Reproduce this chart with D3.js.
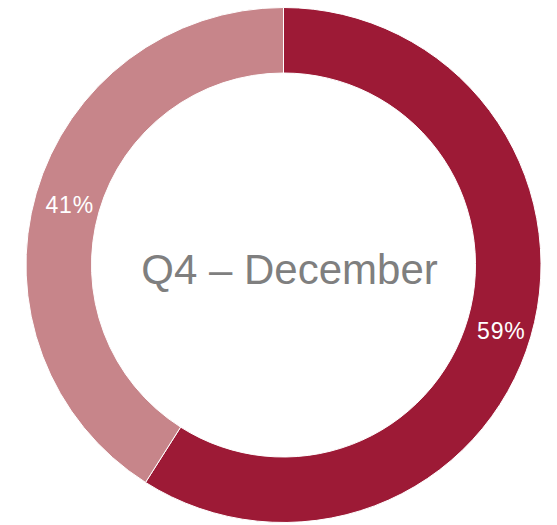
<!DOCTYPE html>
<html>
<head>
<meta charset="utf-8">
<script src="https://cdn.jsdelivr.net/npm/d3@7/dist/d3.min.js"></script>
<style>
html,body{margin:0;padding:0;background:#fff;}
svg{display:block;}
</style>
</head>
<body>
<svg id="chart" width="557" height="525"></svg>
<script>
const categories = ["Achieved", "Remaining"];
const values = [59, 41];
const labels = ["59%", "41%"];
const colors = ["#9D1A36", "#C7858A"];
const title = "Q4 – December";

const svg = d3.select("#chart");
const cx = 283.5, cy = 265, outerR = 257.5, innerR = 192;
const g = svg.append("g").attr("transform", `translate(${cx},${cy})`);

const pie = d3.pie().sort(null).value(d => d.value);
const data = pie(categories.map((c, i) => ({cat: c, value: values[i], label: labels[i], color: colors[i]})));
const arc = d3.arc().innerRadius(innerR).outerRadius(outerR);

g.selectAll("path").data(data).enter().append("path")
  .attr("d", arc)
  .attr("fill", d => d.data.color)
  .attr("stroke", "#fff")
  .attr("stroke-width", 1);

g.selectAll("text.lbl").data(data).enter().append("text")
  .attr("class", "lbl")
  .attr("x", d => arc.centroid(d)[0] + 2)
  .attr("y", d => arc.centroid(d)[1] + 5)
  .attr("text-anchor", "middle")
  .attr("dominant-baseline", "middle")
  .attr("fill", "#fff")
  .style("font-family", "Liberation Sans, Arial, sans-serif")
  .style("font-size", "23px")
  .style("letter-spacing", "0.8px")
  .text(d => d.data.label);

g.append("text")
  .attr("x", 6)
  .attr("y", 8)
  .attr("text-anchor", "middle")
  .attr("dominant-baseline", "middle")
  .attr("fill", "#7F7F7F")
  .style("font-family", "Liberation Sans, Arial, sans-serif")
  .style("font-size", "42px")
  .text(title);
</script>
</body>
</html>
